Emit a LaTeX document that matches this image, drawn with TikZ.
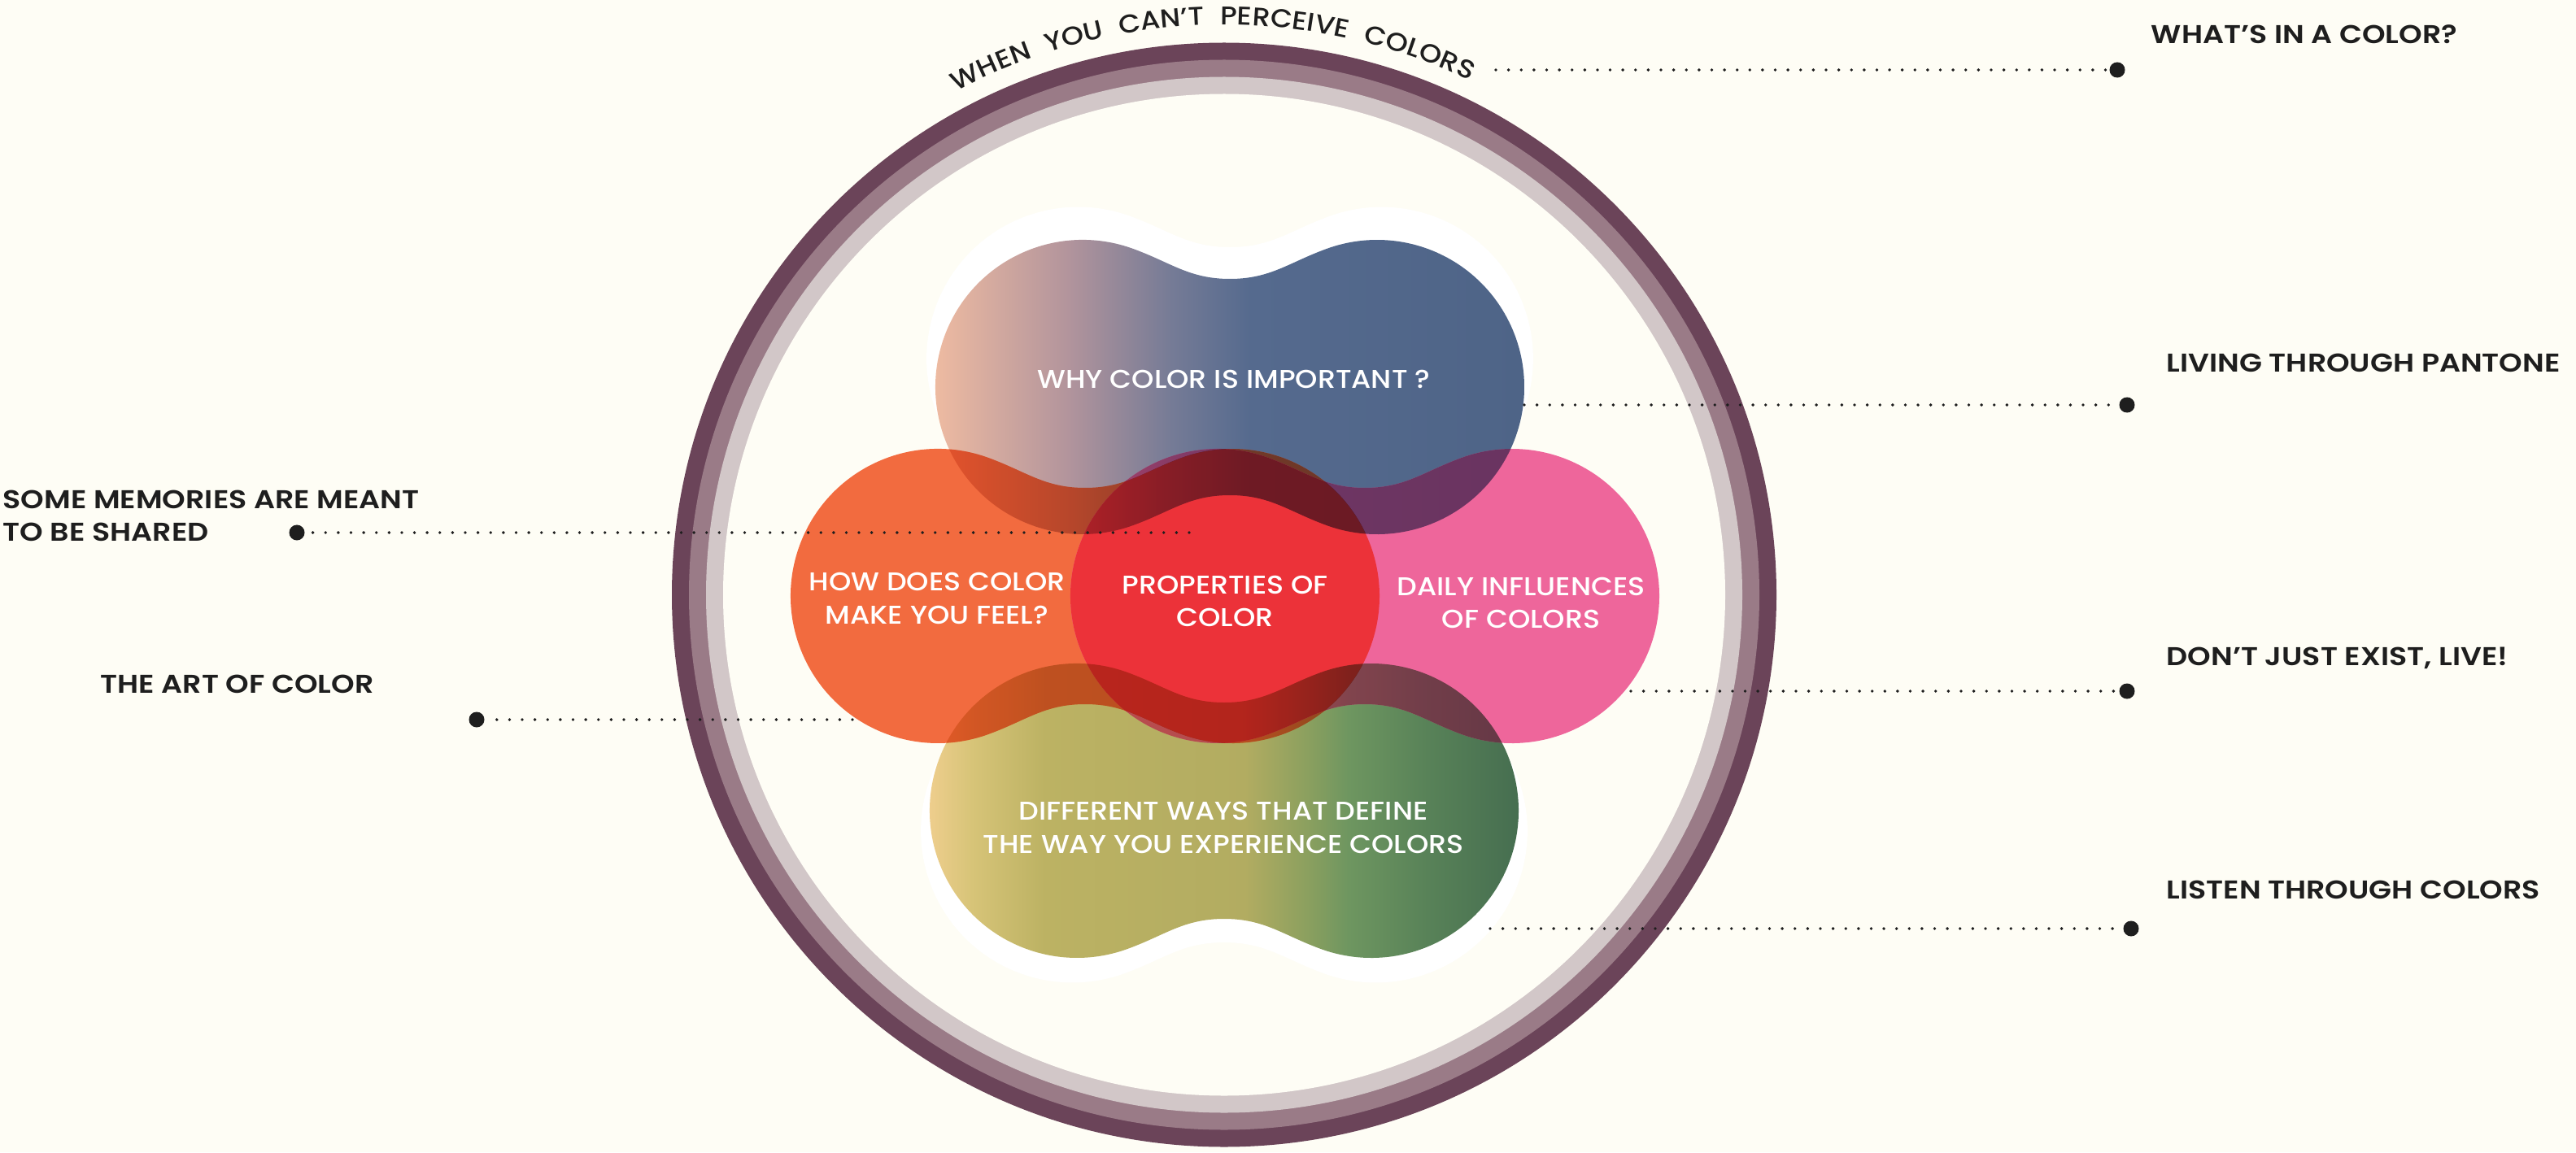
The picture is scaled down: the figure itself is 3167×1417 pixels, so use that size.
\documentclass[tikz,border=0pt]{standalone}
\usepackage{fontspec}
\setmainfont{Poppins}
\newfontfamily\pmed{Poppins Medium}[FakeStretch=1.1]
\newfontfamily\psemi{Poppins SemiBold}[FakeStretch=1.15]
\newfontfamily\ptitle{Poppins Medium}[FakeStretch=1.1]
\usetikzlibrary{decorations.text}
\definecolor{bgc}{RGB}{254,253,245}
\definecolor{ringA}{RGB}{107,68,89}
\definecolor{ringB}{RGB}{154,123,135}
\definecolor{ringC}{RGB}{210,199,200}
\definecolor{ink}{RGB}{30,30,30}
\definecolor{orangeC}{RGB}{242,107,63}
\definecolor{pinkC}{RGB}{238,102,155}
\definecolor{redC}{RGB}{236,50,57}
\definecolor{tg0}{RGB}{246,192,162}
\definecolor{tg1}{RGB}{178,148,156}
\definecolor{tg2}{RGB}{117,123,150}
\definecolor{tg3}{RGB}{85,106,142}
\definecolor{tg4}{RGB}{78,100,135}
\definecolor{bb0}{RGB}{248,210,150}
\definecolor{bb1}{RGB}{215,196,120}
\definecolor{bb2}{RGB}{188,178,99}
\definecolor{bb3}{RGB}{178,172,97}
\definecolor{bb4}{RGB}{140,160,95}
\definecolor{bb5}{RGB}{110,150,96}
\definecolor{bb6}{RGB}{88,130,88}
\definecolor{bb7}{RGB}{70,110,80}
\colorlet{tl0}{tg0!80!white}\colorlet{tl1}{tg1!80!white}\colorlet{tl2}{tg2!80!white}
\colorlet{tl3}{tg3!80!white}\colorlet{tl4}{tg4!80!white}
\colorlet{bl0}{bb0!80!white}\colorlet{bl1}{bb1!80!white}\colorlet{bl2}{bb2!80!white}
\colorlet{bl3}{bb3!80!white}\colorlet{bl4}{bb4!80!white}\colorlet{bl5}{bb5!80!white}
\colorlet{bl6}{bb6!80!white}\colorlet{bl7}{bb7!80!white}
\pgfdeclarehorizontalshading{topgrad}{100bp}{color(0bp)=(tg0); color(25bp)=(tg0); color(37.5bp)=(tg1); color(46bp)=(tg2); color(52.5bp)=(tg3); color(75bp)=(tg4); color(100bp)=(tg4)}
\pgfdeclarehorizontalshading{toplight}{100bp}{color(0bp)=(tl0); color(25bp)=(tl0); color(37.5bp)=(tl1); color(46bp)=(tl2); color(52.5bp)=(tl3); color(75bp)=(tl4); color(100bp)=(tl4)}
\pgfdeclarehorizontalshading{botgrad}{100bp}{color(0bp)=(bb0); color(25bp)=(bb0); color(30bp)=(bb1); color(36bp)=(bb2); color(52.5bp)=(bb3); color(57.5bp)=(bb4); color(61bp)=(bb5); color(67.5bp)=(bb6); color(75bp)=(bb7); color(100bp)=(bb7)}
\pgfdeclarehorizontalshading{botlight}{100bp}{color(0bp)=(bl0); color(25bp)=(bl0); color(30bp)=(bl1); color(36bp)=(bl2); color(52.5bp)=(bl3); color(57.5bp)=(bl4); color(61bp)=(bl5); color(67.5bp)=(bl6); color(75bp)=(bl7); color(100bp)=(bl7)}
\newcommand{\peanutpath}[1]{\path[#1] (362,0) arc[start angle=0,end angle=110,radius=181]
  .. controls (72.1,153) and (50,133) .. (0,133)
  .. controls (-50,133) and (-72.1,153) .. (-119.1,170.1)
  arc[start angle=70,end angle=290,radius=181]
  .. controls (-72.1,-153) and (-50,-133) .. (0,-133)
  .. controls (50,-133) and (72.1,-153) .. (119.1,-170.1)
  arc[start angle=250,end angle=360,radius=181] -- cycle;}
\tikzset{atorange/.style={shift={(1334,684)}}, atpink/.style={shift={(1678,684)}},
  attop/.style={shift={(1512,941)}}, atbottom/.style={shift={(1505,420)}}}
\begin{document}
\begin{tikzpicture}[x=0.01cm,y=0.01cm,
  lbl/.style={font=\psemi\fontsize{9}{11.4}\selectfont, text=ink, inner sep=0pt},
  inlbl/.style={font=\pmed\fontsize{9}{11.4}\selectfont, text=white, inner sep=0pt, align=center},
  dotnode/.style={circle, fill=ink, minimum size=0.19cm, inner sep=0pt},
  leader/.style={ink, line width=1.1pt, line cap=round, dash pattern=on 0pt off 4.44pt}]
\useasboundingbox (0,0) rectangle (3167,1417);
\fill[bgc] (0,0) rectangle (3167,1417);
% rings
\coordinate (ctr) at (1505,685.5);
\fill[ringA] (ctr) circle[radius=679];
\fill[ringB] (ctr) circle[radius=658];
\fill[ringC] (ctr) circle[radius=637];
\fill[bgc] (ctr) circle[radius=616];
% curved title
\path[decorate, decoration={text along path, text align={fit to path stretching spaces},
  text color=ink, text={|\ptitle\fontsize{9}{11}\selectfont|WHEN YOU CAN’T PERCEIVE COLORS}}]
  (ctr) ++(118:701) arc[start angle=118, end angle=64.5, radius=701];
% white halos
\peanutpath{fill=white, shift={(1512,976)}, scale=1.03}
\peanutpath{fill=white, shift={(1505,395)}, scale=1.03}
% top and bottom blobs
\peanutpath{shade, shading=topgrad, attop}
\peanutpath{shade, shading=botgrad, atbottom}
% middle blobs
\peanutpath{fill=orangeC, atorange}
\peanutpath{fill=pinkC, atpink}
% overlaps with the orange blob
\begin{scope}
\peanutpath{clip, atorange}
\begin{scope}[blend mode=multiply]
\peanutpath{shade, shading=toplight, attop}
\peanutpath{shade, shading=botlight, atbottom}
\end{scope}
\end{scope}
% red centre: orange and pink together
\begin{scope}
\peanutpath{clip, atorange}
\peanutpath{fill=redC, atpink}
\end{scope}
% overlaps with the pink blob
\begin{scope}
\peanutpath{clip, atpink}
\begin{scope}[blend mode=multiply]
\peanutpath{shade, shading=toplight, attop}
\peanutpath{shade, shading=botlight, atbottom}
\end{scope}
\end{scope}
% inner labels
\node[inlbl] (why) at (1517,950.5) {WHY COLOR IS IMPORTANT ?};
\node[inlbl] (how) at (1152,681) {HOW DOES COLOR\\MAKE YOU FEEL?};
\node[inlbl] (prop) at (1506,677.5) {PROPERTIES OF\\COLOR};
\node[inlbl] (daily) at (1870,675.5) {DAILY INFLUENCES\\OF COLORS};
\node[inlbl] (diff) at (1504,399) {DIFFERENT WAYS THAT DEFINE\\THE WAY YOU EXPERIENCE COLORS};
% outer labels
\node[lbl, anchor=base west] (whats) at (2644,1363) {WHAT’S IN A COLOR?};
\node[lbl, anchor=base west] (living) at (2663,960) {LIVING THROUGH PANTONE};
\node[lbl, anchor=base west] (dont) at (2663,599) {DON’T JUST EXIST, LIVE!};
\node[lbl, anchor=base west] (listen) at (2663,312) {LISTEN THROUGH COLORS};
\node[lbl, anchor=west, align=left] (memories) at (3,782.5) {SOME MEMORIES ARE MEANT\\TO BE SHARED};
\node[lbl, anchor=base west] (art) at (123,565) {THE ART OF COLOR};
% dots and leaders
\node[dotnode] (d1) at (2603,1331) {};
\node[dotnode] (d2) at (2615,919) {};
\node[dotnode] (d3) at (2615,567) {};
\node[dotnode] (d4) at (2620,275) {};
\node[dotnode] (d5) at (365,762) {};
\node[dotnode] (d6) at (586,532) {};
\coordinate (s1) at (1839,1331);
\coordinate (s2) at (1874,919);
\coordinate (s3) at (2005,567);
\coordinate (s4) at (1832,275);
\coordinate (s5) at (1462,762);
\coordinate (s6) at (1048,532);
\draw[leader] (s1) -- (d1);
\draw[leader] (s2) -- (d2);
\draw[leader] (s3) -- (d3);
\draw[leader] (s4) -- (d4);
\draw[leader] (s5) -- (d5);
\draw[leader] (s6) -- (d6);
\end{tikzpicture}
\end{document}
